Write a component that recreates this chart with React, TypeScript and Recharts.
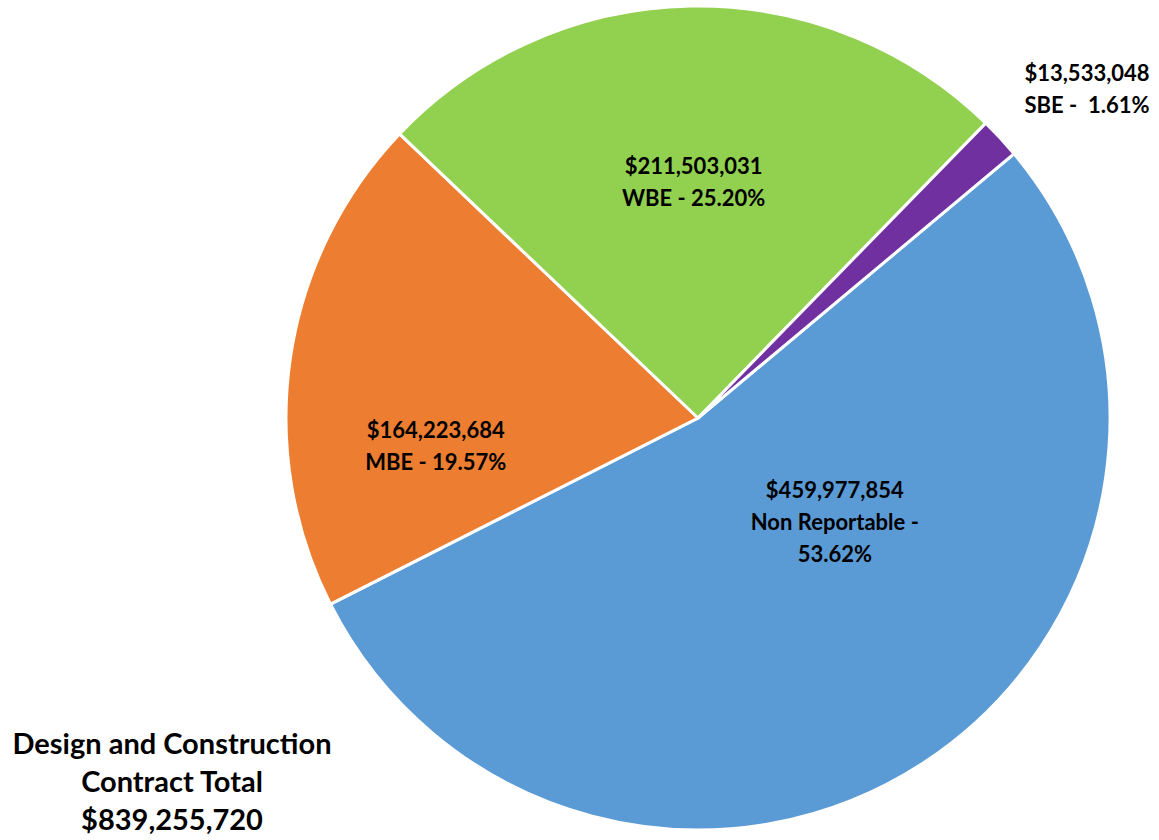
import { PieChart, Pie, Cell } from "recharts";

const categories = ["Non Reportable", "MBE", "WBE", "SBE"];
const amounts = ["$459,977,854", "$164,223,684", "$211,503,031", "$13,533,048"];
const percents = [53.62, 19.57, 25.2, 1.61];
const colors = ["#5B9BD5", "#ED7D31", "#92D050", "#7030A0"];
const totalLines = ["Design and Construction", "Contract Total", "$839,255,720"];

// label placement: radius as fraction of outer radius, angle tweak from the slice middle
const labelPlacement = [
  { r: 0.417, da: 19.4 },
  { r: 0.64, da: 14.3 },
  { r: 0.575, da: 0 },
  { r: 1.238, da: -2.5 },
];

const data = categories.map((name, i) => ({ name, value: percents[i] }));

const labelLines = (i: number): string[] => {
  const pct = percents[i].toFixed(2) + "%";
  if (categories[i] === "Non Reportable") return [amounts[i], "Non Reportable -", pct];
  if (categories[i] === "SBE") return [amounts[i], "SBE -  " + pct];
  return [amounts[i], `${categories[i]} - ${pct}`];
};

const RADIAN = Math.PI / 180;

const renderLabel = (props: any) => {
  const { cx, cy, midAngle, outerRadius, index } = props;
  const p = labelPlacement[index];
  const a = (midAngle + p.da) * RADIAN;
  const x = cx + Math.cos(-a) * outerRadius * p.r;
  const y = cy + Math.sin(-a) * outerRadius * p.r;
  const lines = labelLines(index);
  const lh = 32;
  const top = y - ((lines.length - 1) * lh) / 2;
  return (
    <text
      x={x}
      y={top}
      textAnchor="middle"
      fill="#000"
      fontFamily="Lato, sans-serif"
      fontWeight={700}
      fontSize={22}
      style={{ whiteSpace: "pre" }}
    >
      {lines.map((l, k) => (
        <tspan key={k} x={x} y={top + k * lh} dominantBaseline="central">
          {l}
        </tspan>
      ))}
    </text>
  );
};

export default function App() {
  return (
    <div style={{ position: "relative", width: 1159, height: 840, background: "#fff" }}>
      <style>{`body{margin:0}`}</style>
      <PieChart width={1159} height={840} margin={{ top: 0, right: 0, bottom: 0, left: 0 }}>
        <Pie
          data={data}
          dataKey="value"
          nameKey="name"
          cx={698}
          cy={418}
          outerRadius={412}
          startAngle={39.9}
          endAngle={39.9 - 360}
          stroke="#fff"
          strokeWidth={3}
          label={renderLabel}
          labelLine={false}
          isAnimationActive={false}
        >
          {data.map((d, i) => (
            <Cell key={d.name} fill={colors[i]} />
          ))}
        </Pie>
      </PieChart>
      <div
        style={{
          position: "absolute",
          left: 0,
          top: 724,
          width: 344,
          textAlign: "center",
          fontFamily: "Lato, sans-serif",
          fontWeight: 700,
          fontSize: 29,
          lineHeight: "38px",
          color: "#000",
        }}
      >
        {totalLines.map((l) => (
          <div key={l}>{l}</div>
        ))}
      </div>
    </div>
  );
}
